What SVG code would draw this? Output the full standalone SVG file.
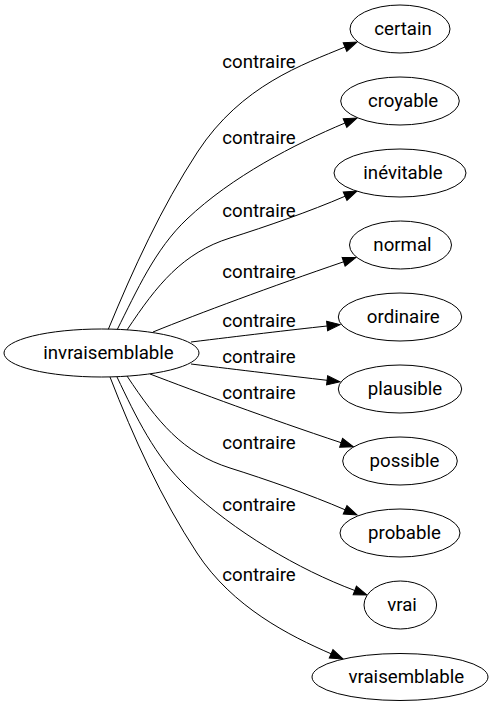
<svg xmlns="http://www.w3.org/2000/svg" width="493" height="707" viewBox="0 0 493 707">
<style>
.node ellipse{fill:#fff;stroke:#000;stroke-width:1}
.node text,.lbl{font-family:Roboto,"Liberation Sans",sans-serif;font-size:18.67px;fill:#000}
.node text{text-anchor:middle}
.lbl{text-anchor:middle}
.edge{fill:none;stroke:#000;stroke-width:1;marker-end:url(#arr)}
</style>
<defs>
<marker id="arr" markerWidth="14" markerHeight="10" refX="0" refY="5" orient="auto" markerUnits="userSpaceOnUse" viewBox="0 0 14 10" overflow="visible">
<path d="M0,0.33 L13,5 L0,9.67 z" fill="#000" stroke="#000" stroke-width="1"/>
</marker>
</defs>
<rect width="493" height="707" fill="#fff"/>
<g id="connectors">
<path class="edge" d="M108,330 C133.4,268.5 161.4,207.3 197.5,152 C241.3,85.1 303.5,64.3 345,47"/>
<path class="edge" d="M117,330 C136.8,290.8 155,249.2 187,219 C232,176.4 294.3,144.3 345,123"/>
<path class="edge" d="M127,330 C157.3,284.4 182.5,253 230,238 C266.1,226.6 310.2,211.3 345.1,196.2"/>
<path class="edge" d="M153,332 C200,313 270,287 343.6,261.8"/>
<path class="edge" d="M191,342 C240,336 290,330 327.1,326"/>
<path class="edge" d="M191,364 C240,370 290,376 327.1,380.3"/>
<path class="edge" d="M150,374 C197,392 267,418 341.1,442.7"/>
<path class="edge" d="M127,376 C157.3,421.6 182.5,453 230,468 C266.1,479.4 310.2,494.7 345.1,509.8"/>
<path class="edge" d="M117,377 C135.9,416.6 155,456.8 187,487 C234.3,531.7 298.6,569.5 354.8,590.5"/>
<path class="edge" d="M110,377 C133.4,437.5 161.4,498.7 197,553 C232.6,607.3 289.8,635.9 331.1,653.8"/>
<text class="lbl" x="259" y="67.5">contraire</text>
<text class="lbl" x="259" y="143.5">contraire</text>
<text class="lbl" x="259" y="216.5">contraire</text>
<text class="lbl" x="259" y="277.5">contraire</text>
<text class="lbl" x="259" y="326.5">contraire</text>
<text class="lbl" x="259" y="362.5">contraire</text>
<text class="lbl" x="259" y="398.5">contraire</text>
<text class="lbl" x="259" y="448.5">contraire</text>
<text class="lbl" x="259" y="511">contraire</text>
<text class="lbl" x="259" y="581">contraire</text>
</g>
<g id="invraisemblable" class="node"><ellipse cx="101.5" cy="353" rx="97.5" ry="24"/><text x="108.5" y="359.3">invraisemblable</text></g>
<g id="certain" class="node"><ellipse cx="400" cy="29" rx="50" ry="24"/><text x="403" y="35.3">certain</text></g>
<g id="croyable" class="node"><ellipse cx="400" cy="101" rx="59.3" ry="24"/><text x="403" y="107.3">croyable</text></g>
<g id="inevitable" class="node"><ellipse cx="400" cy="173" rx="66" ry="24"/><text x="403" y="179.3">inévitable</text></g>
<g id="normal" class="node"><ellipse cx="400.5" cy="245" rx="51" ry="24"/><text x="402.5" y="251.3">normal</text></g>
<g id="ordinaire" class="node"><ellipse cx="400" cy="317" rx="61.7" ry="24"/><text x="403.3" y="323.3">ordinaire</text></g>
<g id="plausible" class="node"><ellipse cx="400" cy="389" rx="61.7" ry="24"/><text x="405" y="395.3">plausible</text></g>
<g id="possible" class="node"><ellipse cx="400" cy="461" rx="57.3" ry="24"/><text x="404.5" y="467.3">possible</text></g>
<g id="probable" class="node"><ellipse cx="400" cy="533" rx="60" ry="24"/><text x="404.5" y="539.3">probable</text></g>
<g id="vrai" class="node"><ellipse cx="400.3" cy="605" rx="36.3" ry="24"/><text x="402" y="611.3">vrai</text></g>
<g id="vraisemblable" class="node"><ellipse cx="400" cy="677" rx="88" ry="23.5"/><text x="406.3" y="683.3">vraisemblable</text></g>
</svg>
